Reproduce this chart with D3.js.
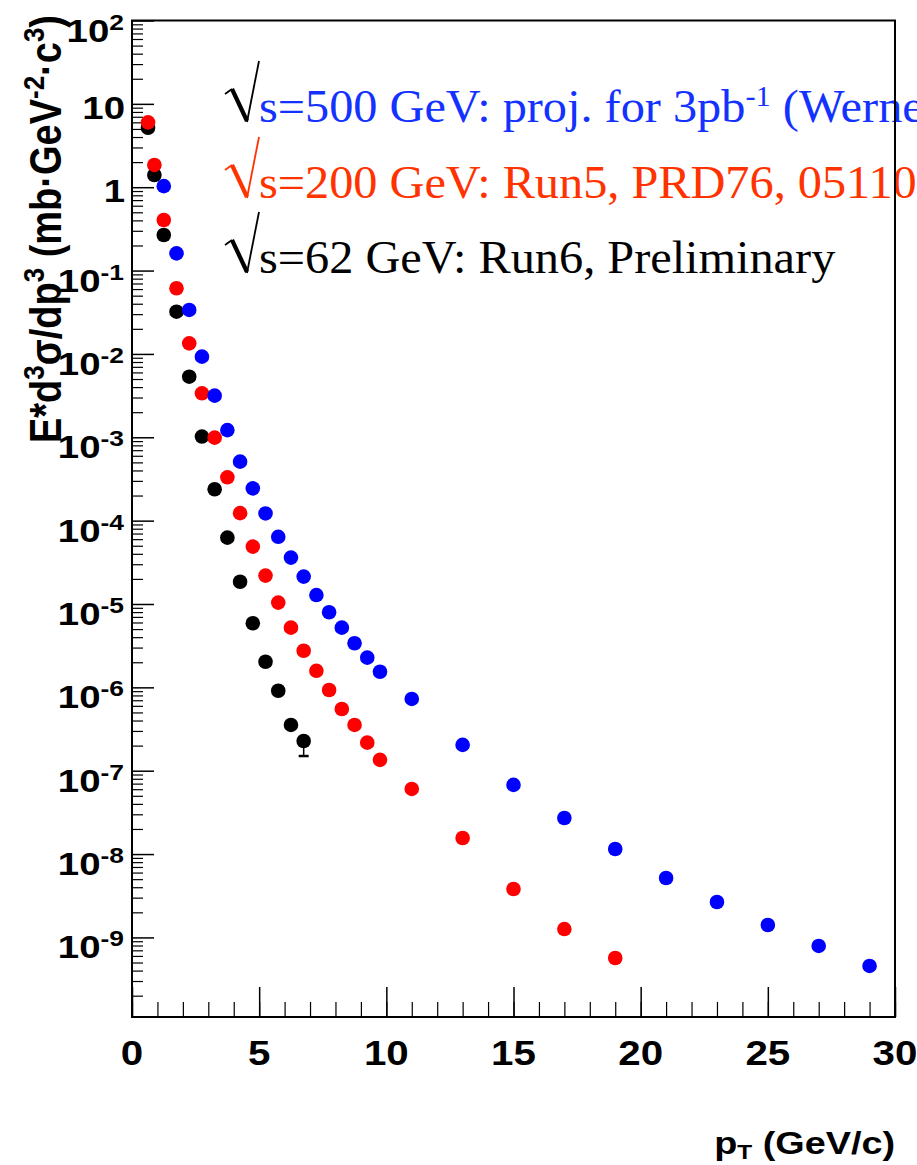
<!DOCTYPE html>
<html>
<head>
<meta charset="utf-8">
<script src="https://cdn.jsdelivr.net/npm/d3@7"></script>
<style>
html,body{margin:0;padding:0;background:#fff;}
svg{display:block;}
</style>
</head>
<body>
<svg id="chart" width="917" height="1165"></svg>
<script>
// ---------------- data ----------------
const ptBlue = [1.25,1.75,2.25,2.75,3.25,3.75,4.25,4.75,5.25,5.75,6.25,6.75,7.25,7.75,8.25,8.75,9.25,9.75,11,13,15,17,19,21,23,25,27,29];
const valBlue = [1.03,0.161,0.0337,0.00927,0.00316,1.22e-3,5.1e-4,2.44e-4,1.22e-4,6.4e-5,3.6e-5,2.13e-5,1.28e-5,7.96e-6,5.2e-6,3.38e-6,2.27e-6,1.54e-6,7.26e-7,2.04e-7,6.76e-8,2.71e-8,1.15e-8,5.16e-9,2.66e-9,1.41e-9,7.9e-10,4.55e-10];

const ptRed = [0.63,0.88,1.25,1.75,2.25,2.75,3.25,3.75,4.25,4.75,5.25,5.75,6.25,6.75,7.25,7.75,8.25,8.75,9.25,9.75,11,13,15,17,19];
const valRed = [6.0,1.85,0.404,0.0613,0.0134,3.37e-3,9.9e-4,3.31e-4,1.23e-4,4.88e-5,2.19e-5,1.04e-5,5.2e-6,2.75e-6,1.58e-6,9.3e-7,5.5e-7,3.54e-7,2.17e-7,1.35e-7,6.04e-8,1.56e-8,3.81e-9,1.26e-9,5.66e-10];

const ptBlack = [0.63,0.88,1.25,1.75,2.25,2.75,3.25,3.75,4.25,4.75,5.25,5.75,6.25,6.75];
const valBlack = [5.17,1.40,0.267,0.0321,5.33e-3,1.02e-3,2.38e-4,6.25e-5,1.85e-5,5.87e-6,2.03e-6,9.1e-7,3.54e-7,2.27e-7];
// lower error-bar ends (null = hidden under marker)
const errLowBlack = [null,null,null,null,null,null,null,null,null,null,null,null,null,1.5e-7];

const xTicksMajor = [0,5,10,15,20,25,30];
const xTickLabels = ["0","5","10","15","20","25","30"];
const yExponents = [-9,-8,-7,-6,-5,-4,-3,-2,-1,0,1,2];

const legendLines = [
  {pre:"s=500 GeV: proj. for 3pb", sup:"-1", post:" (Werner)", color:"#1432ff", rad:"#000"},
  {pre:"s=200 GeV: Run5, PRD76, 051106", sup:"", post:"", color:"#ff3300", rad:"#ff3300"},
  {pre:"s=62 GeV: Run6, Preliminary", sup:"", post:"", color:"#000", rad:"#000"}
];

// ---------------- layout ----------------
const svg = d3.select("#chart");
const L = 132, R = 895, T = 20.5, B = 1017;
const x = d3.scaleLinear().domain([0,30]).range([L,R]);
const y = d3.scaleLog().domain([1.11e-10,100]).range([B,T]);

svg.append("rect").attr("width",917).attr("height",1165).attr("fill","#fff");

// ---------- legend text (drawn before frame) ----------
const legBase = [122,198,273];
legendLines.forEach((d,i)=>{
  const b = legBase[i];
  const g = svg.append("g");
  // radical sign
  g.append("path").attr("d",`M225,${b-28} L232,${b-33}`).attr("stroke",d.rad).attr("stroke-width",1.8).attr("fill","none");
  g.append("path").attr("d",`M232,${b-33} L247,${b-1}`).attr("stroke",d.rad).attr("stroke-width",4.2).attr("fill","none");
  g.append("path").attr("d",`M247,${b} L259,${b-61}`).attr("stroke",d.rad).attr("stroke-width",1.8).attr("fill","none");
  const t = g.append("g").attr("transform",`translate(259,${b}) scale(1.05,1)`)
    .append("text").attr("x",0).attr("y",0)
    .attr("font-family","'Liberation Serif','Times New Roman',serif")
    .attr("font-size",46).attr("fill",d.color);
  t.append("tspan").text(d.pre);
  if(d.sup){
    t.append("tspan").attr("font-size",29).attr("dy",-16).text(d.sup);
    t.append("tspan").attr("dy",16).text(d.post);
  }
});

// ---------- axes ----------
const sans = "'Liberation Sans',Arial,Helvetica,sans-serif";

// y minor ticks
const yMinor = [];
for(let e=-10;e<=1;e++){ for(let m=2;m<=9;m++){ const v=m*Math.pow(10,e); if(v>=1.11e-10 && v<=100) yMinor.push(v);} }
const yMajor = yExponents.map(e=>Math.pow(10,e));

svg.append("g").attr("transform",`translate(${L},0)`)
  .call(d3.axisLeft(y).tickValues(yMinor).tickSize(-11).tickSizeOuter(0).tickFormat(""))
  .call(g=>g.select(".domain").remove())
  .call(g=>g.selectAll("line").attr("stroke","#000").attr("stroke-width",1.2));
svg.append("g").attr("transform",`translate(${L},0)`)
  .call(d3.axisLeft(y).tickValues(yMajor).tickSize(-22).tickSizeOuter(0).tickFormat(""))
  .call(g=>g.select(".domain").remove())
  .call(g=>g.selectAll("line").attr("stroke","#000").attr("stroke-width",1.5));

// x ticks
svg.append("g").attr("transform",`translate(0,${B})`)
  .call(d3.axisBottom(x).tickValues(d3.range(0,31,1)).tickSize(-15).tickSizeOuter(0).tickFormat(""))
  .call(g=>g.select(".domain").remove())
  .call(g=>g.selectAll("line").attr("stroke","#000").attr("stroke-width",1.2));
svg.append("g").attr("transform",`translate(0,${B})`)
  .call(d3.axisBottom(x).tickValues(xTicksMajor).tickSize(-30).tickSizeOuter(0).tickFormat(""))
  .call(g=>g.select(".domain").remove())
  .call(g=>g.selectAll("line").attr("stroke","#000").attr("stroke-width",1.5));

// y labels
yExponents.forEach(e=>{
  const ty = y(Math.pow(10,e));
  if(e===0 || e===1){
    svg.append("g").attr("transform",`translate(125,${ty+15}) scale(1.2,1)`)
      .append("text").attr("text-anchor","end").attr("font-family",sans).attr("font-weight","bold")
      .attr("font-size",32).text(e===0?"1":"10");
  } else {
    const t = svg.append("g").attr("transform",`translate(124,${ty+21}) scale(1.2,1)`)
      .append("text").attr("text-anchor","end").attr("font-family",sans).attr("font-weight","bold")
      .attr("font-size",32);
    t.append("tspan").text("10");
    t.append("tspan").attr("font-size",22).attr("dy",-12).text(String(e));
  }
});

// x labels
xTicksMajor.forEach((v,i)=>{
  svg.append("g").attr("transform",`translate(${x(v)},1065) scale(1.12,1)`)
    .append("text").attr("text-anchor","middle").attr("font-family",sans).attr("font-weight","bold")
    .attr("font-size",36).text(xTickLabels[i]);
});

// x title
{
  const t = svg.append("g").attr("transform",`translate(895,1154) scale(1.22,1)`)
    .append("text").attr("text-anchor","end").attr("font-family",sans).attr("font-weight","bold").attr("font-size",31);
  t.append("tspan").text("p");
  t.append("tspan").attr("font-size",20).attr("dy",5).text("T");
  t.append("tspan").attr("dy",-5).text(" (GeV/c)");
}
// y title
{
  const t = svg.append("g").attr("transform",`translate(61,15) scale(1.15,1) rotate(-90)`)
    .append("text").attr("text-anchor","end").attr("font-family",sans).attr("font-weight","bold").attr("font-size",38);
  t.append("tspan").text("E*d");
  t.append("tspan").attr("font-size",26).attr("dy",-15).text("3");
  t.append("tspan").attr("dy",15).text("σ/dp");
  t.append("tspan").attr("font-size",26).attr("dy",-15).text("3");
  t.append("tspan").attr("dy",15).text(" (mb·GeV");
  t.append("tspan").attr("font-size",26).attr("dy",-15).text("-2");
  t.append("tspan").attr("dy",15).text("·c");
  t.append("tspan").attr("font-size",26).attr("dy",-15).text("3");
  t.append("tspan").attr("dy",15).text(")");
}

// ---------- data markers ----------
const series = [
  {pt:ptBlack, v:valBlack, color:"#000000"},
  {pt:ptRed, v:valRed, color:"#ff0000"},
  {pt:ptBlue, v:valBlue, color:"#0000ff"}
];
// error bars
errLowBlack.forEach((lo,i)=>{
  if(lo===null) return;
  const cx = x(ptBlack[i]);
  svg.append("line").attr("x1",cx).attr("x2",cx).attr("y1",y(valBlack[i])).attr("y2",y(lo)).attr("stroke","#000").attr("stroke-width",1.5);
  svg.append("line").attr("x1",cx-5).attr("x2",cx+5).attr("y1",y(lo)).attr("y2",y(lo)).attr("stroke","#000").attr("stroke-width",2.5);
});
series.forEach(s=>{
  svg.append("g").selectAll("circle").data(s.pt.map((p,i)=>[p,s.v[i]])).join("circle")
    .attr("cx",d=>x(d[0])).attr("cy",d=>y(d[1])).attr("r",7.3).attr("fill",s.color);
});

// ---------- frame ----------
svg.append("rect").attr("x",L).attr("y",T).attr("width",R-L).attr("height",B-T)
  .attr("fill","none").attr("stroke","#000").attr("stroke-width",2);
</script>
</body>
</html>
